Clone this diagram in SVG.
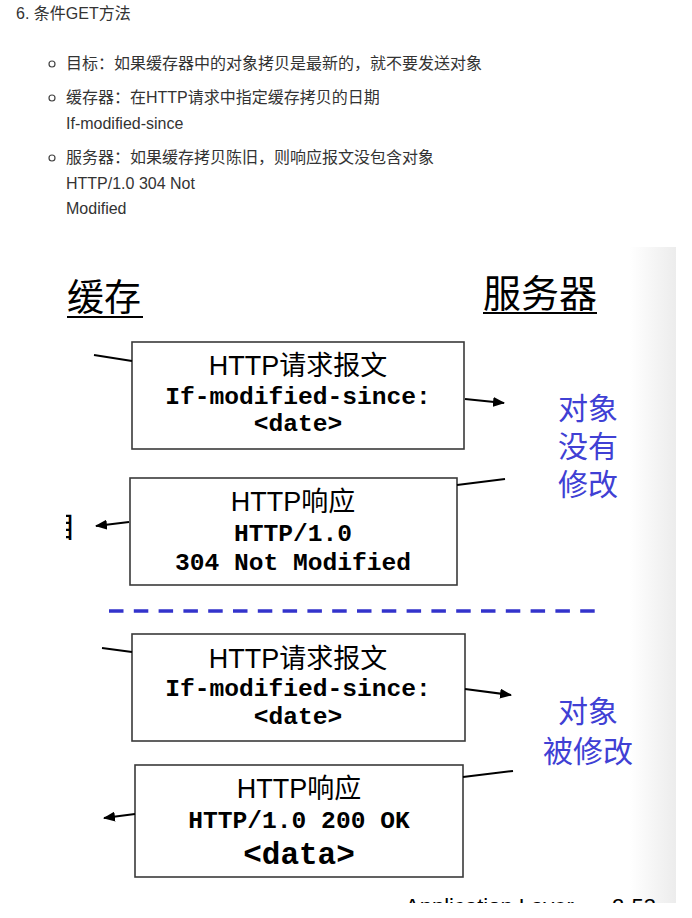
<svg xmlns="http://www.w3.org/2000/svg" width="692" height="918" viewBox="0 0 692 918">
<style>
.page{font-family:"Liberation Sans","Noto Sans CJK SC",sans-serif;font-size:16px;fill:#333}
.bul{fill:none;stroke:#444;stroke-width:1.2}
.box{fill:#fff;stroke:#3a3a3a;stroke-width:1.6}
.ttl{font-family:"Liberation Sans","Noto Sans CJK SC",sans-serif;font-size:27px;fill:#000;text-anchor:middle}
.mono{font-family:"Liberation Mono",monospace;font-weight:bold;font-size:24.6px;fill:#000;text-anchor:middle}
.head{font-family:"Noto Sans CJK SC",sans-serif;font-size:37px;fill:#000}
.blue{font-family:"Noto Sans CJK SC",sans-serif;font-size:30px;fill:#4040d4;text-anchor:middle}
.conn line{stroke:#000;stroke-width:2}
.foot{font-family:"Liberation Sans",sans-serif;font-size:22px;fill:#000}
</style>
<defs>
<marker id="ah" markerUnits="userSpaceOnUse" markerWidth="12" markerHeight="10" refX="11" refY="5" orient="auto">
<path d="M0,0 L12,5 L0,10 Z" fill="#000"/>
</marker>
<linearGradient id="edge" x1="0" y1="0" x2="1" y2="0">
<stop offset="0" stop-color="#ffffff"/>
<stop offset="1" stop-color="#ececec"/>
</linearGradient>
<clipPath id="leftclip"><rect x="66" y="240" width="620" height="663"/></clipPath>
<clipPath id="botclip"><rect x="0" y="240" width="692" height="663"/></clipPath>
</defs>
<rect width="692" height="918" fill="#fff"/>

<g id="intro" class="page">
<text x="16" y="19">6. 条件GET方法</text>
<circle class="bul" cx="52" cy="64" r="3"/>
<text x="66" y="69">目标：如果缓存器中的对象拷贝是最新的，就不要发送对象</text>
<circle class="bul" cx="52" cy="98" r="3"/>
<text x="66" y="103">缓存器：在HTTP请求中指定缓存拷贝的日期</text>
<text x="66" y="129">If-modified-since</text>
<circle class="bul" cx="52" cy="158" r="3"/>
<text x="66" y="163">服务器：如果缓存拷贝陈旧，则响应报文没包含对象</text>
<text x="66" y="189">HTTP/1.0 304 Not</text>
<text x="66" y="214">Modified</text>
</g>

<rect x="630" y="247" width="46" height="656" fill="url(#edge)"/>

<g id="fragments" clip-path="url(#leftclip)">
<text x="44" y="537" font-family="Noto Sans CJK SC,sans-serif" font-size="32" fill="#000">自</text>
</g>

<g id="label-cache">
<text class="head" x="67" y="311">缓存</text>
<rect x="67" y="316" width="76" height="2" fill="#000"/>
</g>
<g id="label-server">
<text class="head" x="483" y="307" style="font-size:38px">服务器</text>
<rect x="483" y="312" width="114" height="2" fill="#000"/>
</g>

<g id="req1">
<rect class="box" x="132" y="342" width="332" height="107"/>
<text class="ttl" x="298" y="375">HTTP请求报文</text>
<text class="mono" x="298" y="404">If-modified-since:</text>
<text class="mono" x="298" y="431">&lt;date&gt;</text>
</g>

<g id="resp1">
<rect class="box" x="130" y="478" width="327" height="107"/>
<text class="ttl" x="293" y="511">HTTP响应</text>
<text class="mono" x="293" y="541">HTTP/1.0</text>
<text class="mono" x="293" y="570">304 Not Modified</text>
</g>

<g id="note1">
<text class="blue"><tspan x="588" y="419">对象</tspan><tspan x="588" y="457">没有</tspan><tspan x="588" y="495">修改</tspan></text>
</g>

<g id="divider">
<line x1="109" y1="611" x2="595" y2="611" stroke="#3333cc" stroke-width="3.5" stroke-dasharray="14.5 10.3"/>
</g>

<g id="req2">
<rect class="box" x="132" y="634" width="333" height="107"/>
<text class="ttl" x="298" y="668">HTTP请求报文</text>
<text class="mono" x="298" y="696">If-modified-since:</text>
<text class="mono" x="298" y="724">&lt;date&gt;</text>
</g>

<g id="resp2">
<rect class="box" x="135" y="765" width="328" height="112"/>
<text class="ttl" x="299" y="798">HTTP响应</text>
<text class="mono" x="299" y="828">HTTP/1.0 200 OK</text>
<text class="mono" x="299" y="864" style="font-size:31px">&lt;data&gt;</text>
</g>

<g id="note2">
<text class="blue"><tspan x="588" y="722">对象</tspan><tspan x="588" y="762">被修改</tspan></text>
</g>

<g id="connectors" class="conn">
<line x1="94" y1="355" x2="132" y2="361"/>
<line x1="465" y1="399" x2="504" y2="403" marker-end="url(#ah)"/>
<line x1="505" y1="479" x2="457" y2="485"/>
<line x1="129" y1="522" x2="96" y2="526" marker-end="url(#ah)"/>
<line x1="102" y1="648" x2="132" y2="652"/>
<line x1="465" y1="689" x2="511" y2="695" marker-end="url(#ah)"/>
<line x1="513" y1="771" x2="463" y2="777"/>
<line x1="135" y1="814" x2="104" y2="818" marker-end="url(#ah)"/>
</g>

<g id="footer" clip-path="url(#botclip)">
<text class="foot" x="405" y="914">Application Layer</text>
<text class="foot" x="612" y="914">2-53</text>
</g>
</svg>
